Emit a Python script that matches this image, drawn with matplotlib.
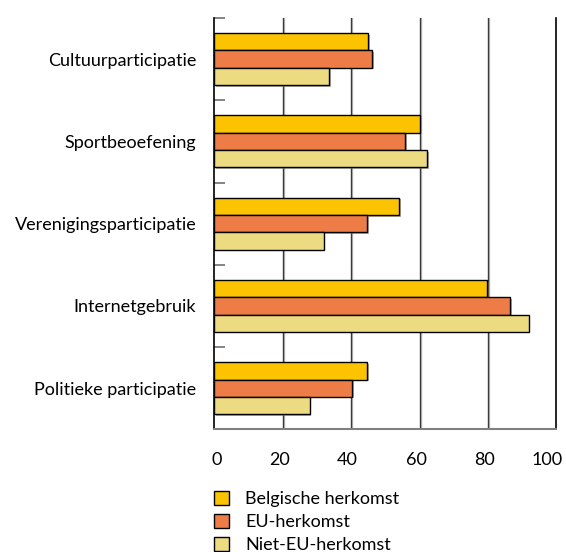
import matplotlib
matplotlib.use("Agg")
import matplotlib.pyplot as plt
import matplotlib.patheffects as pe
import matplotlib.transforms as mtransforms
import numpy as np

categories = ["Cultuurparticipatie", "Sportbeoefening", "Verenigingsparticipatie",
              "Internetgebruik", "Politieke participatie"]
series_names = ["Belgische herkomst", "EU-herkomst", "Niet-EU-herkomst"]
belgisch = [45.0, 60.0, 54.1, 79.8, 44.6]
eu = [46.2, 55.9, 44.6, 86.5, 40.4]
niet_eu = [33.6, 62.3, 32.0, 91.9, 27.9]
x_ticks = [0, 20, 40, 60, 80, 100]
colors = ["#FCC400", "#EE7C46", "#ECDB80"]

plt.rcParams['font.family'] = ['Lato', 'DejaVu Sans']
FS = 13

fig = plt.figure(figsize=(5.66, 5.52), dpi=100)
ax = fig.add_axes([0.3786, 0.2223, 0.6043, 0.7451])

y = np.arange(len(categories))
h = 0.21
shadow = [pe.SimplePatchShadow(offset=(1.2, -1.2), shadow_rgbFace='#777777', alpha=0.6), pe.Normal()]
handles = []
for i, (vals, name, c) in enumerate(zip([belgisch, eu, niet_eu], series_names, colors)):
    b = ax.barh(y + (i - 1) * h, vals, height=h, color=c, edgecolor='black',
                linewidth=1.0, label=name, zorder=3)
    for p in b:
        p.set_path_effects(shadow)
    handles.append(b)

ax.set_xlim(0, 100)
ax.set_ylim(len(categories) - 0.5, -0.5)
ax.set_xticks(x_ticks)
ax.set_xticklabels([str(t) for t in x_ticks])
ax.set_yticks(y)
ax.set_yticklabels(categories)
ax.set_yticks(np.arange(len(categories) + 1) - 0.5, minor=True)
ax.tick_params(axis='y', which='major', length=0, pad=13, labelsize=FS)
ax.tick_params(axis='y', which='minor', direction='in', length=8, width=1.2, color='#707070')
ax.tick_params(axis='x', which='both', length=0, pad=16, labelsize=FS)

px_shift = [2.5, -3.5, -3.5, -3.5, -3.5, -9]
for lab, s in zip(ax.get_xticklabels(), px_shift):
    lab.set_transform(lab.get_transform() + mtransforms.ScaledTranslation(s / 100, 0, fig.dpi_scale_trans))

for t in x_ticks[1:-1]:
    ax.axvline(t, color='#3a3a3a', linewidth=1.0, zorder=1,
               path_effects=[pe.SimpleLineShadow(offset=(1, 0), shadow_color='#999999', alpha=0.6), pe.Normal()])

ax.spines['top'].set_visible(False)
ax.spines['right'].set_color('black')
ax.spines['right'].set_linewidth(1.2)
ax.spines['left'].set_color('black')
ax.spines['left'].set_linewidth(1.2)
ax.spines['bottom'].set_color('#808080')
ax.spines['bottom'].set_linewidth(1.5)

leg = fig.legend(handles=handles, labels=series_names, loc='upper left',
                 bbox_to_anchor=(0.365, 0.124), frameon=False, fontsize=FS,
                 handlelength=0.85, handleheight=0.85, handletextpad=0.9,
                 labelspacing=0.36, borderaxespad=0)
for p in leg.get_patches():
    p.set_path_effects([])

fig.savefig("out.png", dpi=100)
